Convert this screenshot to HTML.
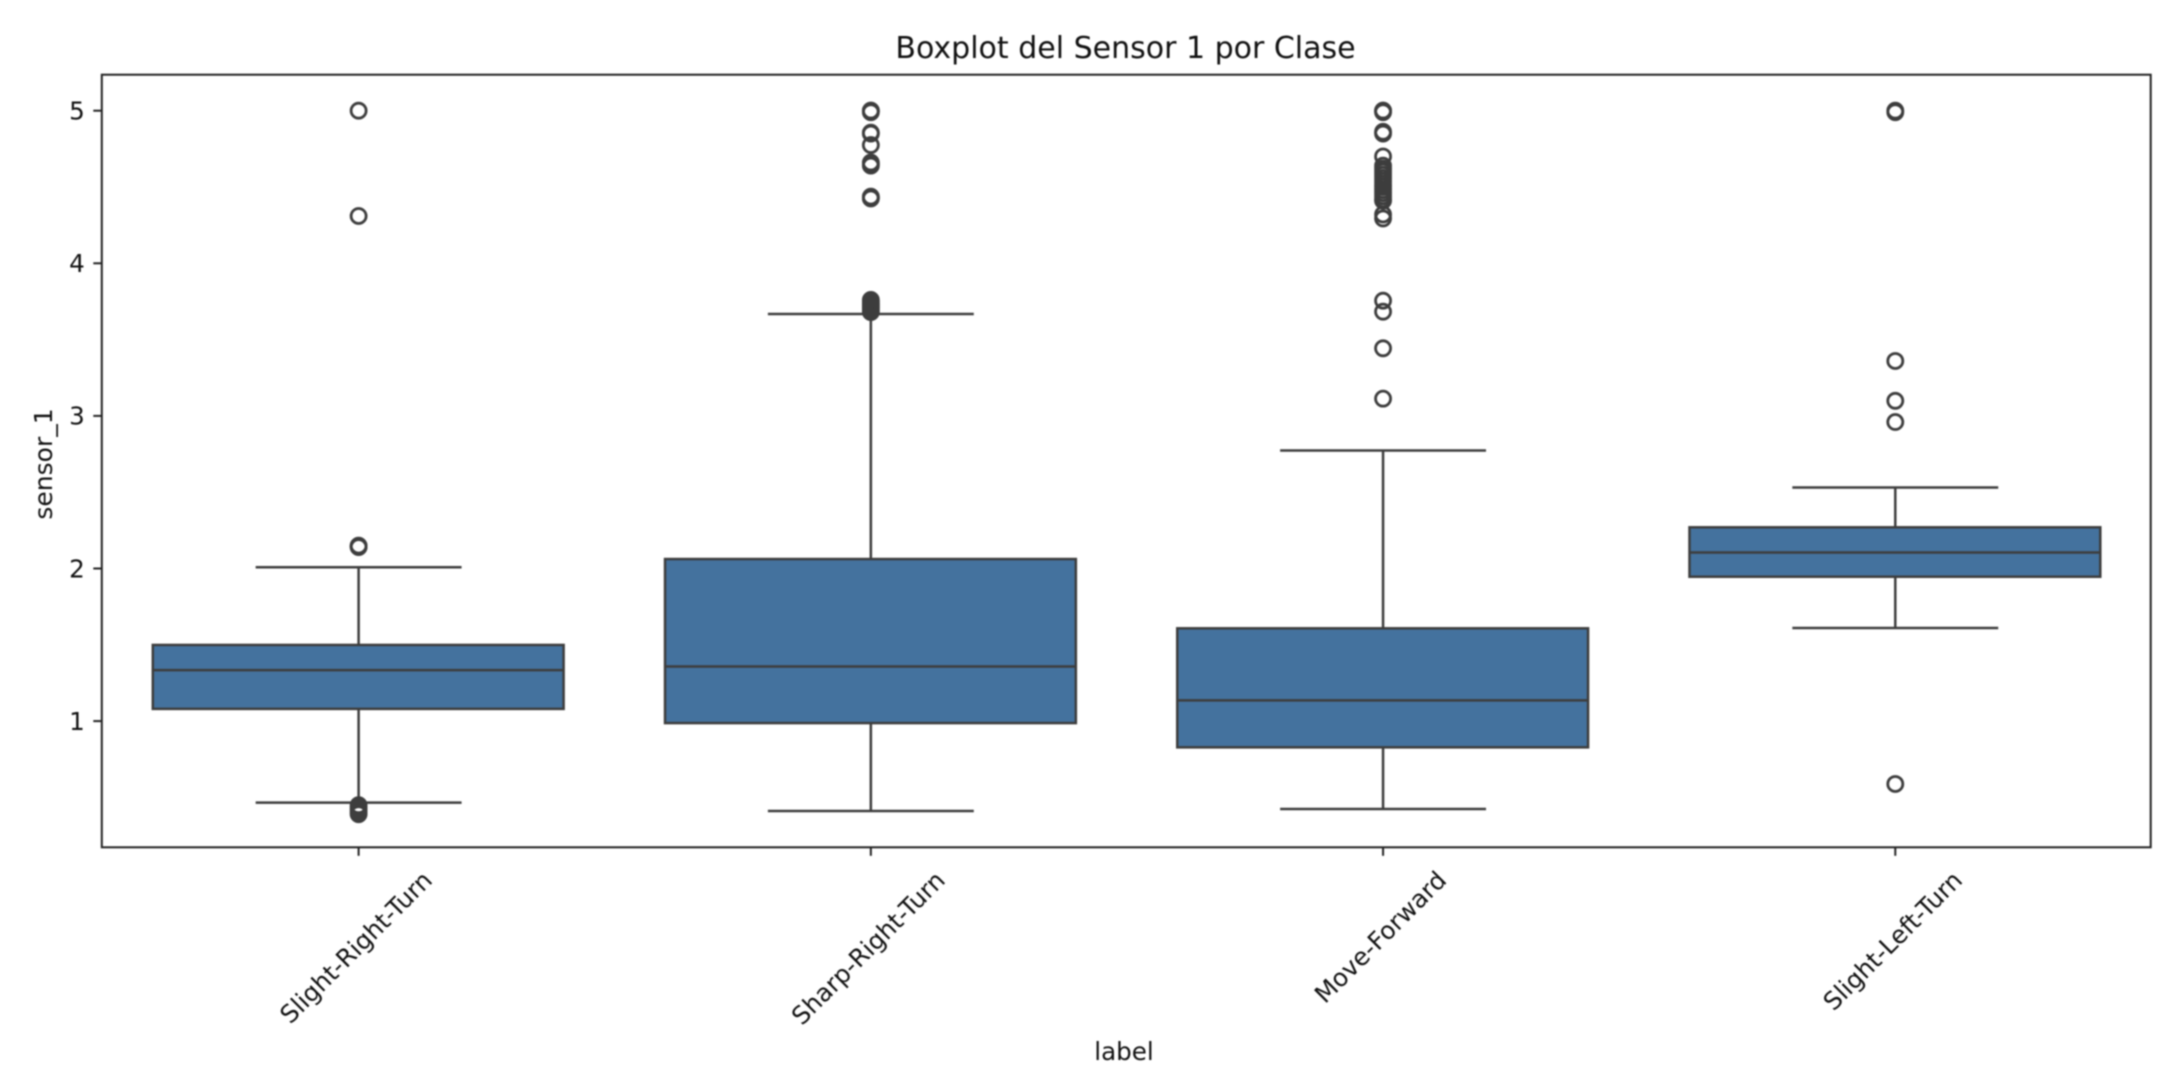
<!DOCTYPE html>
<html lang="es">
<head>
<meta charset="utf-8">
<title>Boxplot del Sensor 1 por Clase</title>
<style>
html,body{margin:0;padding:0;background:#fff;width:2170px;height:1076px;overflow:hidden}
svg{display:block;filter:blur(0.7px)}
text{font-family:"DejaVu Sans","Liberation Sans",sans-serif;fill:#111111}
</style>
</head>
<body>
<svg id="chart" xmlns="http://www.w3.org/2000/svg" width="2170" height="1076" viewBox="0 0 2170 1076">
  <rect x="0" y="0" width="2170" height="1076" fill="#ffffff"/>
  <text x="1125.5" y="58" font-size="30" text-anchor="middle">Boxplot del Sensor 1 por Clase</text>
  <text x="1124" y="1060" font-size="24.6" text-anchor="middle">label</text>
  <text x="0" y="0" font-size="25" text-anchor="middle" transform="translate(52 464) rotate(-90)">sensor_1</text>
  <g id="plot"></g>
</svg>
<script>
const categories = ["Slight-Right-Turn", "Sharp-Right-Turn", "Move-Forward", "Slight-Left-Turn"];
const whiskerLow = [0.466, 0.411, 0.424, 1.61];
const q1 = [1.08, 0.987, 0.828, 1.946];
const median = [1.334, 1.358, 1.136, 2.105];
const q3 = [1.499, 2.062, 1.608, 2.27];
const whiskerHigh = [2.008, 3.668, 2.773, 2.531];
const outliersSlightRight = [5, 4.31, 2.15, 2.145, 2.14, 0.449, 0.435, 0.42, 0.405, 0.39];
const outliersSharpRight = [5, 5, 4.99, 4.856, 4.85, 4.775, 4.66, 4.65, 4.64, 4.437, 4.43, 4.425, 3.76, 3.75, 3.74, 3.73, 3.72, 3.71, 3.7, 3.69, 3.68];
const outliersMoveForward = [5, 5, 4.99, 4.862, 4.85, 4.7, 4.64, 4.62, 4.6, 4.58, 4.56, 4.54, 4.52, 4.5, 4.48, 4.46, 4.44, 4.42, 4.41, 4.32, 4.294, 3.755, 3.683, 3.443, 3.113];
const outliersSlightLeft = [5, 4.99, 3.36, 3.099, 2.96, 0.588];
const yTicks = [1, 2, 3, 4, 5];

const NS = "http://www.w3.org/2000/svg";
const plot = document.getElementById("plot");
const axisLeft = 101.8, axisRight = 2150.7, axisTop = 74.7, axisBottom = 847.3;
const yAt5 = 110.7, pxPerUnit = 152.6;
const bandWidth = (axisRight - axisLeft) / categories.length;
const BOX_FILL = "#44729e", LINE = "#3d3d3d", AXIS = "#222222";

function xScale(i) { return axisLeft + 0.7 + bandWidth * (i + 0.5); }
function yScale(v) { return yAt5 + (5 - v) * pxPerUnit; }

function make(tag, attrs, parent) {
  const el = document.createElementNS(NS, tag);
  for (const k in attrs) el.setAttribute(k, attrs[k]);
  (parent || plot).appendChild(el);
  return el;
}

const outlierSets = [outliersSlightRight, outliersSharpRight, outliersMoveForward, outliersSlightLeft];

categories.forEach(function (cat, i) {
  const slug = cat.toLowerCase();
  const cx = xScale(i);
  const boxHalf = bandWidth * 0.401;
  const capHalf = bandWidth * 0.201;

  const group = make("g", {});
  
  

  const whiskerUp = make("line", {x1: cx, x2: cx, y1: yScale(q3[i]), y2: yScale(whiskerHigh[i]), stroke: LINE, "stroke-width": 2.5}, group);
  
  

  const whiskerDown = make("line", {x1: cx, x2: cx, y1: yScale(q1[i]), y2: yScale(whiskerLow[i]), stroke: LINE, "stroke-width": 2.5}, group);
  
  

  const capUp = make("line", {x1: cx - capHalf, x2: cx + capHalf, y1: yScale(whiskerHigh[i]), y2: yScale(whiskerHigh[i]), stroke: LINE, "stroke-width": 2.5}, group);
  
  

  const capDown = make("line", {x1: cx - capHalf, x2: cx + capHalf, y1: yScale(whiskerLow[i]), y2: yScale(whiskerLow[i]), stroke: LINE, "stroke-width": 2.5}, group);
  
  

  const box = make("rect", {x: cx - boxHalf - 0.4, y: yScale(q3[i]), width: boxHalf * 2, height: yScale(q1[i]) - yScale(q3[i]), fill: BOX_FILL, stroke: LINE, "stroke-width": 2.5}, group);
  
  

  const med = make("line", {x1: cx - boxHalf - 0.4, x2: cx + boxHalf - 0.4, y1: yScale(median[i]), y2: yScale(median[i]), stroke: LINE, "stroke-width": 2.5}, group);
  
  

  outlierSets[i].forEach(function (v) {
    const pt = make("circle", {cx: cx, cy: yScale(v), r: 7.5, fill: "none", stroke: LINE, "stroke-width": 2.8}, group);
    
    
  });

  const tick = make("line", {x1: cx, x2: cx, y1: axisBottom, y2: axisBottom + 8.5, stroke: AXIS, "stroke-width": 2}, group);
  
  

  const label = make("text", {x: 0, y: 0, "font-size": 24.6, "text-anchor": "middle", "dominant-baseline": "central"});
  
  
  label.textContent = cat;
  const halfExtent = (label.getComputedTextLength() + 26) * Math.SQRT1_2 / 2;
  label.setAttribute("transform", "translate(" + (cx - 2.6) + " " + (866.5 + halfExtent) + ") rotate(-45)");
});

yTicks.forEach(function (v) {
  const y = yScale(v);
  const tick = make("line", {x1: axisLeft - 8.5, x2: axisLeft, y1: y, y2: y, stroke: AXIS, "stroke-width": 2});
  
  

  const label = make("text", {x: axisLeft - 17, y: y + 8.8, "font-size": 24.6, "text-anchor": "end"});
  
  
  label.textContent = String(v);
});

const frame = make("rect", {x: axisLeft, y: axisTop, width: axisRight - axisLeft, height: axisBottom - axisTop, fill: "none", stroke: AXIS, "stroke-width": 2});


</script>
</body>
</html>
